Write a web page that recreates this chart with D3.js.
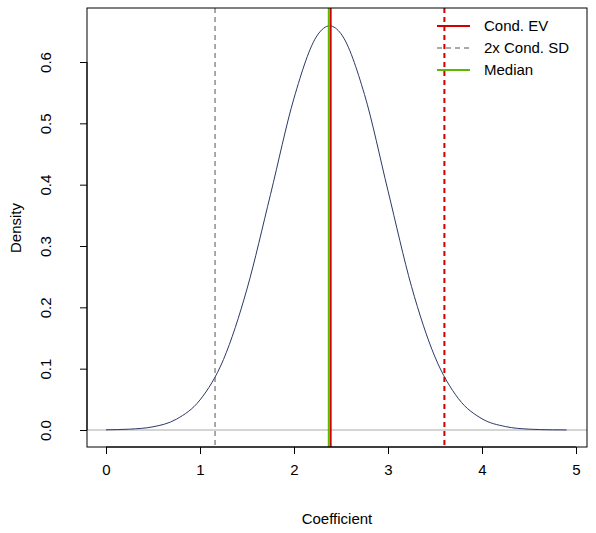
<!DOCTYPE html><html><head><script src="https://d3js.org/d3.v7.min.js"></script>
<style>body{margin:0;background:#fff}text{font-family:"Liberation Sans",Arial,sans-serif}</style></head><body>
<script>
const xs=[0,0.25,0.5,0.75,1,1.25,1.5,1.75,2,2.25,2.38,2.5,2.75,3,3.25,3.5,3.75,4,4.25,4.5,4.75,4.9];
const dens=[0.0003,0.0014,0.0052,0.0177,0.049,0.115,0.230,0.384,0.541,0.644,0.659,0.646,0.547,0.390,0.234,0.119,0.051,0.0183,0.0056,0.0014,0.0003,0.0001];
const condEV=2.39, median=2.37, sdLo=1.16, sdHi=3.60;
const xTicks=[0,1,2,3,4,5], yTicks=[0,0.1,0.2,0.3,0.4,0.5,0.6];
const W=596,H=533,L=87,R=587,T=8,B=447;
const svg=d3.select("body").append("svg").attr("width",W).attr("height",H);
const x=d3.scaleLinear().domain([0,5]).range([106,576]);
const y=d3.scaleLinear().domain([0,0.6]).range([430,62]);
svg.append("line").attr("x1",L).attr("x2",R).attr("y1",y(0)).attr("y2",y(0)).attr("stroke","#aaa");
svg.append("path").datum(xs.map((v,i)=>[v,dens[i]])).attr("fill","none").attr("stroke","#2b3a67").attr("stroke-width",1)
 .attr("d",d3.line().x(d=>x(d[0])).y(d=>y(d[1])).curve(d3.curveMonotoneX));
const vl=(v,c,dash,w)=>svg.append("line").attr("x1",x(v)).attr("x2",x(v)).attr("y1",T).attr("y2",B).attr("stroke",c).attr("stroke-width",w).attr("stroke-dasharray",dash);
vl(sdLo,"#555","5,4",1);vl(sdHi,"#d00000","5,4",2);vl(condEV,"#d00000",null,2);vl(median,"#5cb800",null,2);
svg.append("rect").attr("x",L).attr("y",T).attr("width",R-L).attr("height",B-T).attr("fill","none").attr("stroke","#000");
const xa=svg.append("g").attr("transform",`translate(0,${B})`).call(d3.axisBottom(x).tickValues(xTicks).tickSize(7).tickFormat(d3.format("d")));
xa.select(".domain").attr("d",`M${x(0)},0H${x(5)}`);
xa.selectAll("text").attr("font-size",15).attr("dy","1.2em").attr("fill","#000");
const ya=svg.append("g").attr("transform",`translate(${L},0)`).call(d3.axisLeft(y).tickValues(yTicks).tickSize(7).tickFormat(d3.format(".1f")));
ya.select(".domain").attr("d",`M0,${y(0)}V${y(0.6)}`);
ya.selectAll("text").attr("font-size",15).attr("fill","#000").attr("transform","rotate(-90,-28,0)").attr("x",-28).attr("dy","0").attr("text-anchor","middle").attr("y",-8);
svg.append("text").attr("x",337).attr("y",524).attr("text-anchor","middle").attr("font-size",15).text("Coefficient");
svg.append("text").attr("transform","translate(21,228) rotate(-90)").attr("text-anchor","middle").attr("font-size",15).text("Density");
const leg=[["Cond. EV","#d00000",null],["2x Cond. SD","#555","5,4"],["Median","#5cb800",null]];
leg.forEach((l,i)=>{const yy=26+i*22;
 svg.append("line").attr("x1",437).attr("x2",470).attr("y1",yy).attr("y2",yy).attr("stroke",l[1]).attr("stroke-width",l[2]?1:2).attr("stroke-dasharray",l[2]);
 svg.append("text").attr("x",484).attr("y",yy+5).attr("font-size",15).text(l[0]);});
</script></body></html>
